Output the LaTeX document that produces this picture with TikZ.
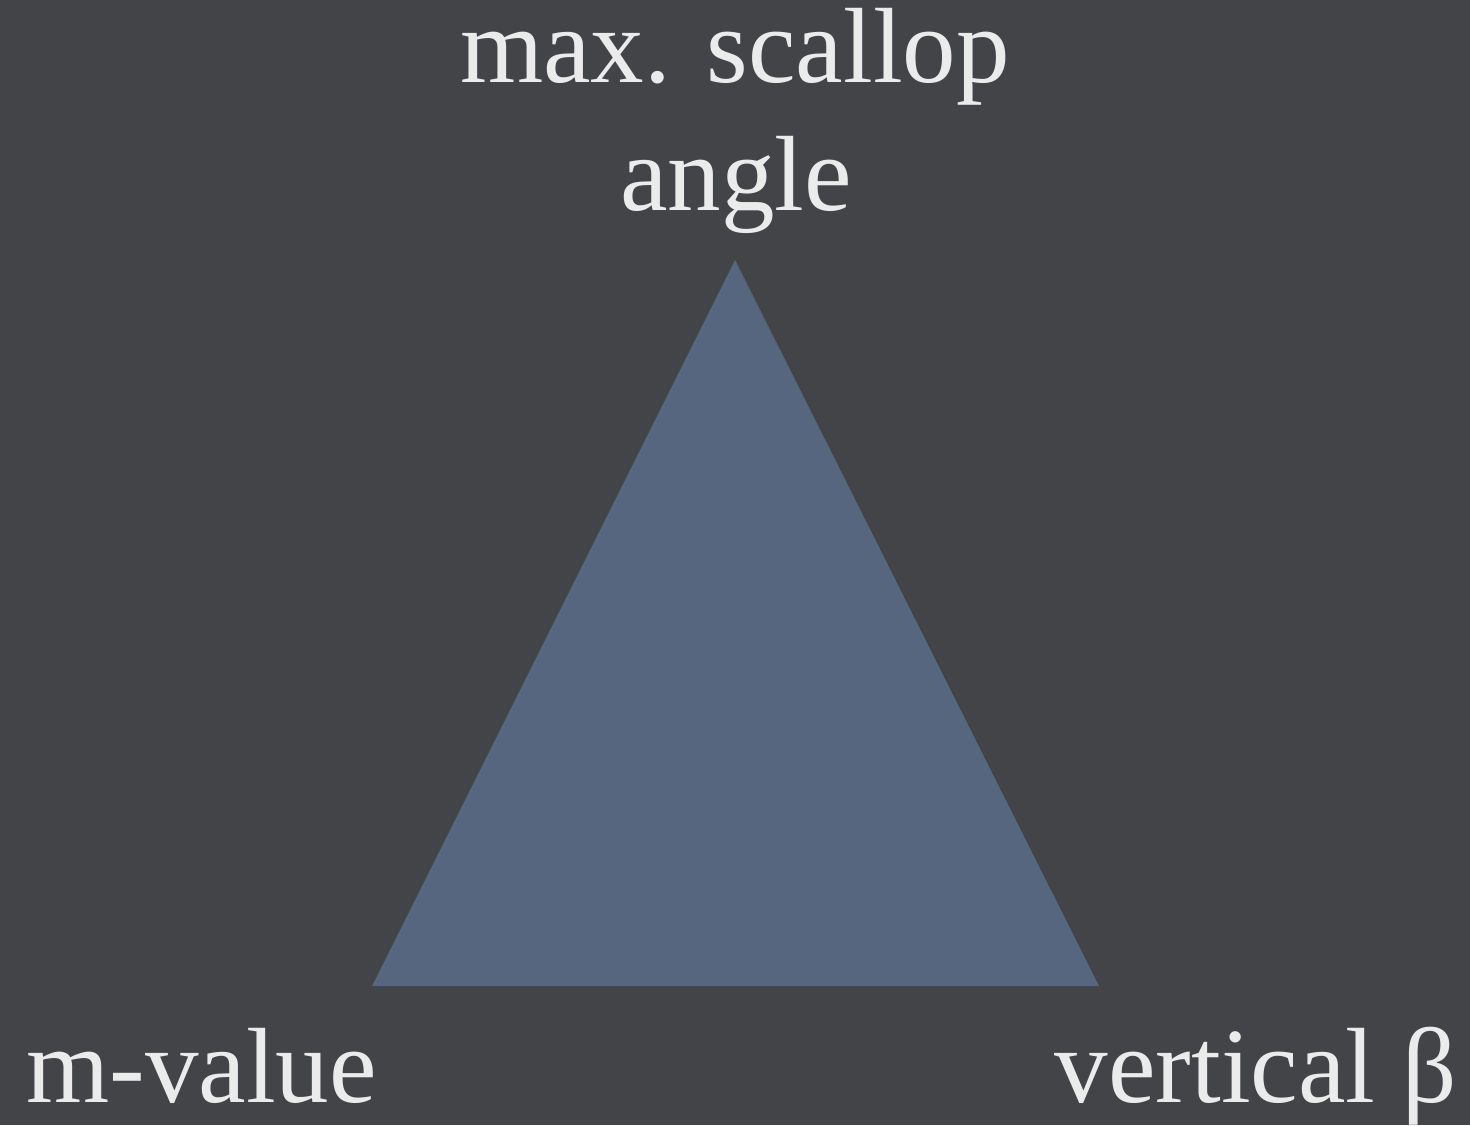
\documentclass[tikz,border=0pt]{standalone}
\usepackage{fontspec}
\setmainfont{Liberation Serif}
\definecolor{bgc}{HTML}{424447}
\definecolor{tric}{HTML}{56667E}
\definecolor{txtc}{HTML}{EBEBEB}
\begin{document}
\begin{tikzpicture}[x=1pt,y=-1pt,
  lbl/.style={text=txtc,inner sep=0pt,font=\fontsize{107}{112}\selectfont}]
\fill[bgc] (0,0) rectangle (1470,1125);
\useasboundingbox (0,0) rectangle (1470,1125);
\coordinate (apex) at (735,260);
\coordinate (bl) at (372,986);
\coordinate (br) at (1099,986);
\fill[tric] (apex) -- (bl) -- (br) -- cycle;
\node[lbl,anchor=base] (top1) at (735,82) {max. scallop};
\node[lbl,anchor=base] (top2) at (736,210) {angle};
\node[lbl,anchor=base west] (left) at (26,1102) {m-value};
\node[lbl,anchor=base east] (right) at (1457,1102) {vertical β};
\end{tikzpicture}
\end{document}
